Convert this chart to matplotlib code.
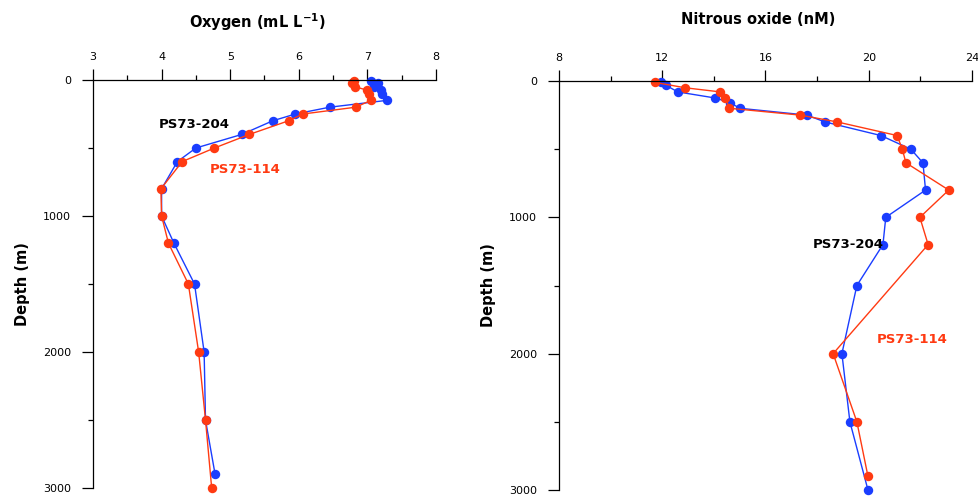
import matplotlib
matplotlib.use("Agg")
import matplotlib.pyplot as plt
from matplotlib.ticker import MultipleLocator

# Station profiles: PS73-204 (blue) and PS73-114 (red)
o2_depth_204 = [10, 25, 50, 75, 100, 150, 200, 250, 300, 400, 500, 600, 800, 1000, 1200, 1500, 2000, 2500, 2900]
o2_204 = [7.05, 7.15, 7.1, 7.2, 7.22, 7.28, 6.45, 5.95, 5.62, 5.17, 4.5, 4.23, 4.0, 4.0, 4.18, 4.48, 4.62, 4.64, 4.78]
o2_depth_114 = [10, 25, 50, 75, 100, 150, 200, 250, 300, 400, 500, 600, 800, 1000, 1200, 1500, 2000, 2500, 3000]
o2_114 = [6.8, 6.78, 6.82, 7.0, 7.02, 7.05, 6.83, 6.06, 5.85, 5.28, 4.77, 4.3, 3.99, 4.0, 4.1, 4.39, 4.54, 4.64, 4.73]

n2o_depth_204 = [10, 30, 80, 125, 160, 200, 250, 300, 400, 500, 600, 800, 1000, 1200, 1500, 2000, 2500, 3000]
n2o_204 = [11.94, 12.13, 12.6, 14.06, 14.64, 15.0, 17.6, 18.3, 20.47, 21.63, 22.1, 22.2, 20.66, 20.55, 19.54, 18.96, 19.27, 19.97]
n2o_depth_114 = [10, 50, 80, 125, 200, 250, 300, 400, 500, 600, 800, 1000, 1200, 2000, 2500, 2900]
n2o_114 = [11.7, 12.9, 14.25, 14.45, 14.6, 17.34, 18.77, 21.1, 21.3, 21.44, 23.1, 21.98, 22.3, 18.62, 19.54, 19.97]

blue = "#1a3dff"
red = "#ff3a12"

fig = plt.figure(figsize=(9.79, 4.97), dpi=100)
ax1 = fig.add_axes([93 / 979, 1 - 488 / 497, 343 / 979, 408 / 497])
ax2 = fig.add_axes([559 / 979, 1 - 490 / 497, 413 / 979, 409 / 497])


def style(ax, xlim, major, minor):
    ax.set_xlim(*xlim)
    ax.set_ylim(3000, 0)
    for s in ["right", "bottom"]:
        ax.spines[s].set_visible(False)
    for s in ["left", "top"]:
        ax.spines[s].set_linewidth(0.9)
    ax.xaxis.tick_top()
    ax.xaxis.set_major_locator(MultipleLocator(major))
    ax.xaxis.set_minor_locator(MultipleLocator(minor))
    ax.yaxis.set_major_locator(MultipleLocator(1000))
    ax.yaxis.set_minor_locator(MultipleLocator(500))
    ax.tick_params(which="major", direction="out", length=8, width=0.9, labelsize=8, pad=5)
    ax.tick_params(which="minor", direction="out", length=3.5, width=0.9)
    ax.tick_params(axis="y", which="major", pad=8)
    ax.set_ylabel("Depth (m)", fontsize=10.5, fontweight="bold", labelpad=9)
    ax.patch.set_alpha(0)
    for sp in ax.spines.values():
        sp.set_clip_on(False)


style(ax1, (3, 8), 1, 0.5)
style(ax2, (8, 24), 4, 2)

kw = dict(marker="o", markersize=6.8, linewidth=1, markeredgewidth=0, clip_on=False)
ax1.plot(o2_204, o2_depth_204, color=blue, **kw)
ax1.plot(o2_114, o2_depth_114, color=red, **kw)
ax2.plot(n2o_204, n2o_depth_204, color=blue, **kw)
ax2.plot(n2o_114, n2o_depth_114, color=red, **kw)

lab = dict(fontsize=9.5, fontweight="bold", ha="center", va="center")
ax1.text(4.48, 330, "PS73-204", color="black", **lab)
ax1.text(5.22, 660, "PS73-114", color=red, **lab)
ax2.text(19.2, 1200, "PS73-204", color="black", **lab)
ax2.text(21.7, 1895, "PS73-114", color=red, **lab)

fig.text(257 / 979, 1 - 22 / 497, "Oxygen (mL L$^{\\mathbf{-1}}$)", fontsize=10.5, fontweight="bold",
         ha="center", va="center")
fig.text(758 / 979, 1 - 20 / 497, "Nitrous oxide (nM)", fontsize=10.5, fontweight="bold",
         ha="center", va="center")

fig.savefig("out.png", dpi=100)
